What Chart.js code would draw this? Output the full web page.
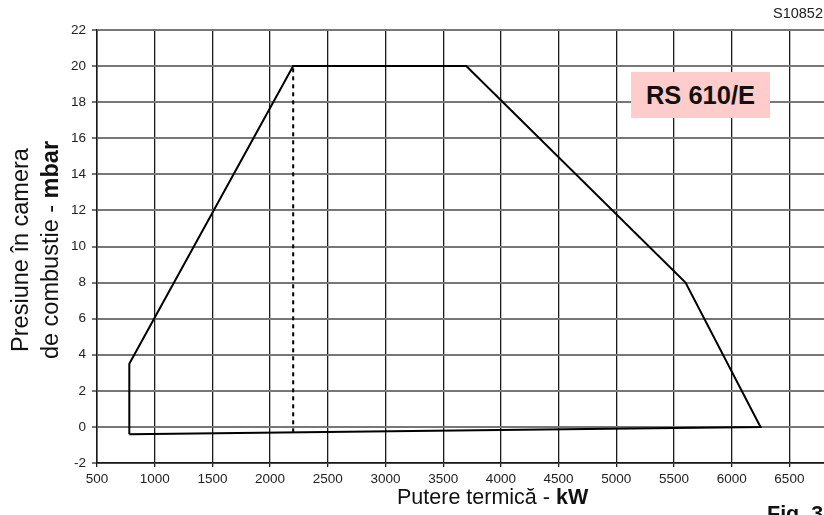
<!DOCTYPE html>
<html><head><meta charset="utf-8">
<script src="https://cdn.jsdelivr.net/npm/chart.js@4"></script>
<style>
html,body{margin:0;padding:0;background:#fff;overflow:hidden}
#wrap{position:relative;width:824px;height:515px;overflow:hidden;font-family:"Liberation Sans",Arial,sans-serif;color:#111}
canvas{position:absolute;left:0;top:0}
.t{position:absolute;white-space:nowrap}
</style></head><body>
<div id="wrap">
<canvas id="c" width="824" height="515"></canvas>
<div class="t" style="right:1px;top:5px;font-size:14.5px;color:#222">S10852</div>
<div class="t" style="left:631px;top:72px;width:139px;height:46px;background:#ffcccc;font-weight:bold;font-size:25.5px;line-height:46px;text-align:center">RS 610/E</div>
<div class="t" style="left:397px;top:485px;font-size:21.5px">Putere termică - <b>kW</b></div>
<div class="t" style="left:767px;top:502px;font-size:21.5px;font-weight:bold">Fig. 3</div>
<div class="t" style="left:5px;top:400px;width:300px;transform-origin:0 0;transform:rotate(-90deg);font-size:23.5px;line-height:30px;text-align:center">Presiune în camera<br>de combustie - <b>mbar</b></div>
</div>
<script>
const envelopeX = [780, 780, 2200, 3700, 5600, 6250, 780];
const envelopeY = [-0.4, 3.5, 20, 20, 8, 0, -0.4];
const dashX = [2200, 2200];
const dashY = [-0.3, 20];
const xTicks = [500,1000,1500,2000,2500,3000,3500,4000,4500,5000,5500,6000,6500];
const yTicks = [-2,0,2,4,6,8,10,12,14,16,18,20,22];

const toPts = (xs, ys) => xs.map((x, i) => ({x: x, y: ys[i]}));

new Chart(document.getElementById('c'), {
  type: 'scatter',
  data: { datasets: [
    { data: toPts(envelopeX, envelopeY), showLine: true, borderColor: '#000', borderWidth: 2, pointRadius: 0, fill: false, tension: 0 },
    { data: toPts(dashX, dashY), showLine: true, borderColor: '#000', borderWidth: 2, borderDash: [4, 4], pointRadius: 0, fill: false }
  ]},
  options: {
    responsive: false, animation: false,
    layout: { padding: { top: 30, right: 0, left: 0, bottom: 0 } },
    plugins: { legend: { display: false }, tooltip: { enabled: false } },
    scales: {
      x: {
        type: 'linear', min: 500, max: 6800,
        afterBuildTicks: s => { s.ticks = xTicks.map(v => ({value: v})); },
        afterFit: s => { s.height = 52; },
        grid: { color: '#1a1a1a', lineWidth: 1.3, drawTicks: true, tickLength: 4 },
        border: { display: true, color: '#1a1a1a', width: 1.5 },
        ticks: { color: '#222', font: { family: 'Liberation Sans', size: 13.5 }, maxRotation: 0, autoSkip: false, padding: 4, callback: v => String(v) }
      },
      y: {
        type: 'linear', min: -2, max: 22,
        afterBuildTicks: s => { s.ticks = yTicks.map(v => ({value: v})); },
        afterFit: s => { s.width = 97; },
        grid: { color: '#777', lineWidth: 2, tickLength: 5 },
        border: { display: true, color: '#1a1a1a', width: 1.5 },
        ticks: { color: '#222', font: { family: 'Liberation Sans', size: 13.5 }, padding: 6, callback: v => String(v) }
      }
    }
  }
});
</script>
</body></html>
